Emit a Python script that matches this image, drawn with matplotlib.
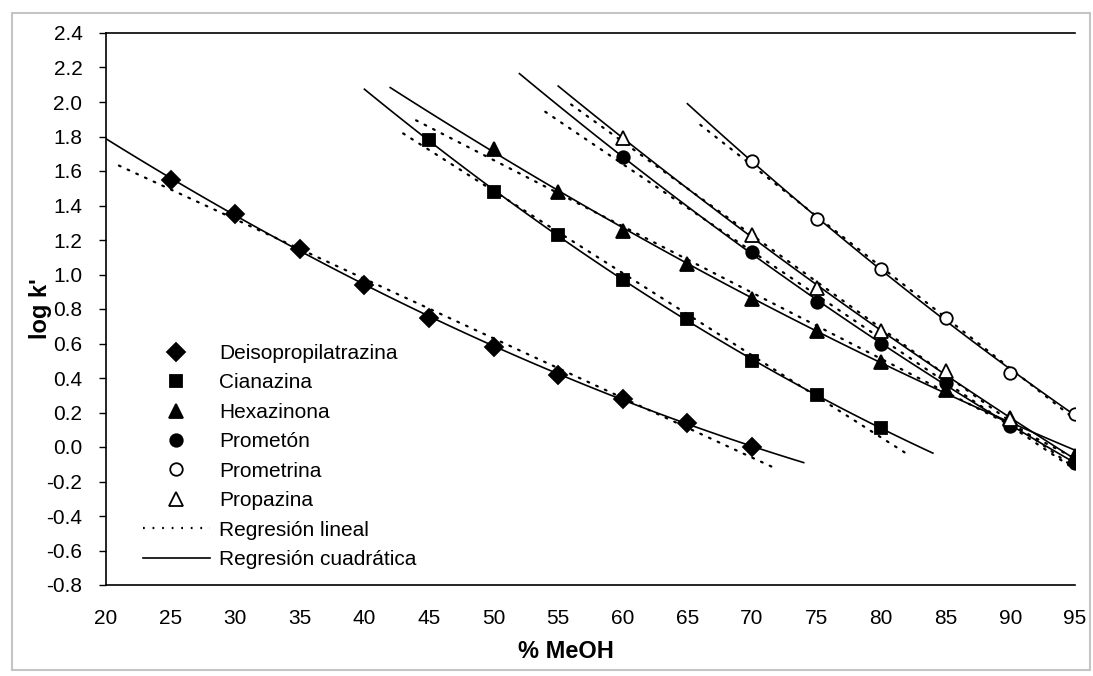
import numpy as np
import matplotlib
matplotlib.use("Agg")
import matplotlib.pyplot as plt
from matplotlib.lines import Line2D
from matplotlib.patches import Rectangle

plt.rcParams['font.family'] = ['Liberation Sans', 'DejaVu Sans']
plt.rcParams['axes.unicode_minus'] = False

# log k' vs % MeOH para cada triazina
x_deis = [25, 30, 35, 40, 45, 50, 55, 60, 65, 70]
y_deis = [1.55, 1.35, 1.15, 0.94, 0.75, 0.58, 0.42, 0.28, 0.14, 0.00]
x_cian = [45, 50, 55, 60, 65, 70, 75, 80]
y_cian = [1.78, 1.48, 1.23, 0.97, 0.74, 0.50, 0.30, 0.11]
x_hexa = [50, 55, 60, 65, 70, 75, 80, 85, 90, 95]
y_hexa = [1.73, 1.48, 1.25, 1.06, 0.86, 0.67, 0.49, 0.33, 0.17, -0.05]
x_prometon = [60, 70, 75, 80, 85, 90, 95]
y_prometon = [1.68, 1.13, 0.84, 0.60, 0.37, 0.12, -0.09]
x_prometrina = [70, 75, 80, 85, 90, 95]
y_prometrina = [1.66, 1.32, 1.03, 0.75, 0.43, 0.19]
x_propazina = [60, 70, 75, 80, 85, 90]
y_propazina = [1.79, 1.23, 0.92, 0.67, 0.44, 0.16]

# extension of the trend lines (min, max % MeOH)
lin_range = {
    'Deisopropilatrazina': (21, 72),
    'Cianazina': (43, 82),
    'Hexazinona': (44, 95),
    'Prometón': (54, 95),
    'Prometrina': (66, 95),
    'Propazina': (56, 95),
}
quad_range = {
    'Deisopropilatrazina': (20, 74),
    'Cianazina': (40, 84),
    'Hexazinona': (42, 95),
    'Prometón': (52, 95),
    'Prometrina': (65, 95),
    'Propazina': (55, 95),
}

series = [
    ('Deisopropilatrazina', x_deis, y_deis, 'D', 'black', 9),
    ('Cianazina', x_cian, y_cian, 's', 'black', 9),
    ('Hexazinona', x_hexa, y_hexa, '^', 'black', 10),
    ('Prometón', x_prometon, y_prometon, 'o', 'black', 9),
    ('Prometrina', x_prometrina, y_prometrina, 'o', 'white', 9),
    ('Propazina', x_propazina, y_propazina, '^', 'white', 10),
]

y_ticks = [-0.8, -0.6, -0.4, -0.2, 0.0, 0.2, 0.4, 0.6, 0.8, 1.0, 1.2,
           1.4, 1.6, 1.8, 2.0, 2.2, 2.4]

W, H = 1093, 676
fig = plt.figure(figsize=(W / 100, H / 100), dpi=100)
ax = fig.add_axes([106 / W, 1 - 585 / H, (1075 - 106) / W, (585 - 33) / H])

for name, xs, ys, mk, fc, ms in series:
    xs = np.array(xs, dtype=float)
    ys = np.array(ys, dtype=float)
    # regresión lineal
    p1 = np.polyfit(xs, ys, 1)
    xl = np.linspace(*lin_range[name], 100)
    ax.plot(xl, np.polyval(p1, xl), color='black', lw=1.6,
            linestyle=(0, (0.8, 3.5)), dash_capstyle='round', zorder=2)
    # regresión cuadrática
    p2 = np.polyfit(xs, ys, 2)
    xq = np.linspace(*quad_range[name], 100)
    ax.plot(xq, np.polyval(p2, xq), color='black', lw=1.2, zorder=2)

for name, xs, ys, mk, fc, ms in series:
    ax.plot(xs, ys, linestyle='none', marker=mk, markersize=ms,
            markerfacecolor=fc, markeredgecolor='black', markeredgewidth=1.3,
            zorder=3)

ax.set_xlim(20, 95)
ax.set_ylim(-0.8, 2.4)
ax.set_xticks(np.arange(20, 96, 5))
ax.set_yticks(y_ticks)
ax.set_yticklabels([f"{v:.1f}" for v in y_ticks])
ax.tick_params(axis='y', direction='out', length=5, width=1, pad=12, labelsize=15)
ax.tick_params(axis='x', direction='out', length=0, pad=17, labelsize=15)
ax.spines['right'].set_visible(False)
for s in ('left', 'bottom', 'top'):
    ax.spines[s].set_linewidth(1.2)

ax.set_xlabel('% MeOH', fontsize=17, fontweight='bold')
ax.xaxis.set_label_coords(0.475, -0.1)
ax.set_ylabel("log k'", fontsize=17, fontweight='bold')
ax.yaxis.set_label_coords(-0.056, 0.5)

handles = []
for name, xs, ys, mk, fc, ms in series:
    handles.append(Line2D([], [], linestyle='none', marker=mk, markersize=ms,
                          markerfacecolor=fc, markeredgecolor='black',
                          markeredgewidth=1.3, label=name))
handles.append(Line2D([], [], color='black', lw=1.6, linestyle=(0, (0.8, 3.5)),
                      label='Regresión lineal'))
handles.append(Line2D([], [], color='black', lw=1.2, label='Regresión cuadrática'))

leg = fig.legend(handles=handles, loc='upper left',
                 bbox_to_anchor=(143 / W, 1 - 344 / H), frameon=False,
                 fontsize=15, handlelength=3.2, handletextpad=0.45,
                 labelspacing=0.5, borderpad=0, borderaxespad=0)

# marco exterior del gráfico
fig.patches.append(Rectangle((12 / W, 1 - 670 / H), (1090 - 12) / W, (670 - 13) / H,
                             transform=fig.transFigure, fill=False,
                             edgecolor='#c4c4c4', linewidth=1.5))

fig.savefig('out.png', dpi=100)
